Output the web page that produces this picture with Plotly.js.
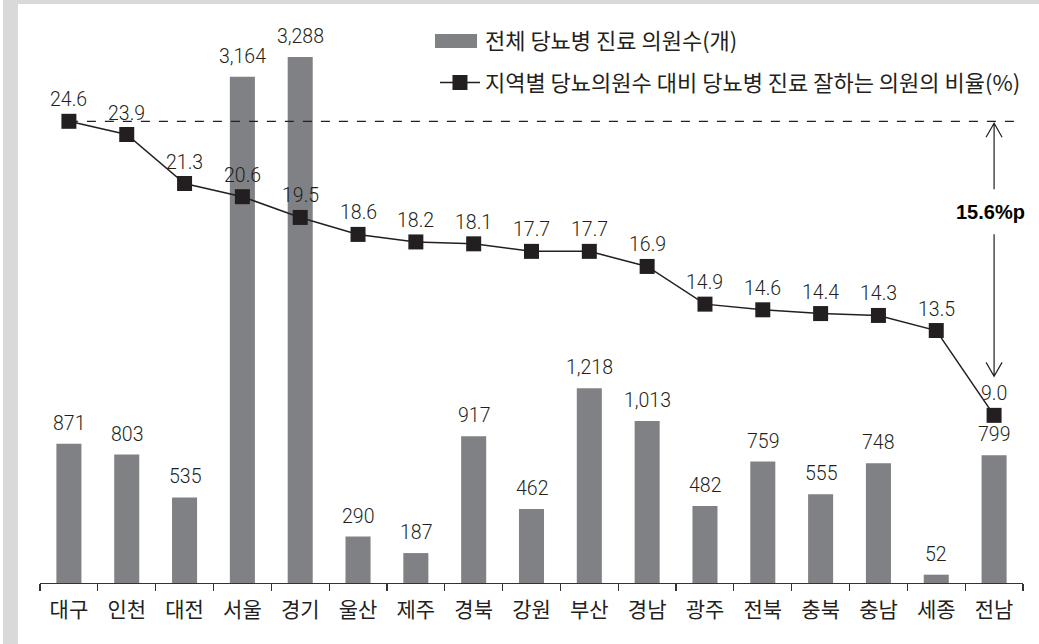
<!DOCTYPE html>
<html>
<head>
<meta charset="utf-8">
<script src="https://cdn.plot.ly/plotly-3.0.1.min.js"></script>
<style>
  html, body { margin: 0; padding: 0; background: #ffffff; width: 1039px; height: 644px; overflow: hidden; }
  #frame { position: absolute; left: 3px; top: 0; border-left: 15px solid #d9d9d9; border-top: 4px solid #d9d9d9; width: 1021px; height: 640px; }
  #chart { width: 1021px; height: 640px; }
</style>
</head>
<body>
<div id="frame"><div id="chart"></div></div>
<script>
// ---- data ----
const regions = ['대구','인천','대전','서울','경기','울산','제주','경북','강원','부산','경남','광주','전북','충북','충남','세종','전남'];
const clinicCounts = [871, 803, 535, 3164, 3288, 290, 187, 917, 462, 1218, 1013, 482, 759, 555, 748, 52, 799];
const goodRatio = [24.6, 23.9, 21.3, 20.6, 19.5, 18.6, 18.2, 18.1, 17.7, 17.7, 16.9, 14.9, 14.6, 14.4, 14.3, 13.5, 9.0];
const seriesNames = ['전체 당뇨병 진료 의원수(개)', '지역별 당뇨의원수 대비 당뇨병 진료 잘하는 의원의 비율(%)'];

// ---- styles ----
const numFont = 'Roboto, sans-serif';
const korFont = 'Noto Sans CJK KR, sans-serif';
const ink = '#231f20';
const barColor = '#808184';

const maxR = Math.max(...goodRatio);
const minR = Math.min(...goodRatio);
const nCat = regions.length;

const traces = [
  {
    type: 'bar', x: regions, y: clinicCounts, name: seriesNames[0],
    marker: { color: barColor }, yaxis: 'y', legendgroup: 'a',
    hoverinfo: 'skip'
  },
  {
    type: 'scatter', mode: 'lines+markers', x: regions, y: goodRatio, name: seriesNames[1],
    yaxis: 'y2', legendgroup: 'b',
    line: { color: ink, width: 1.5 },
    marker: { symbol: 'square', size: 15, color: ink },
    hoverinfo: 'skip'
  }
];

const annotations = [];
regions.forEach((r, i) => {
  annotations.push({
    x: r, y: clinicCounts[i], xref: 'x', yref: 'y',
    text: clinicCounts[i].toLocaleString('en-US'), showarrow: false,
    yanchor: 'bottom', yshift: 7,
    font: { family: numFont, size: 19.5, color: ink, weight: 300 }
  });
  annotations.push({
    x: r, y: goodRatio[i], xref: 'x', yref: 'y2',
    text: goodRatio[i].toFixed(1), showarrow: false,
    yanchor: 'bottom', yshift: 8,
    font: { family: numFont, size: 19.5, color: ink, weight: 300 }
  });
});
annotations.push({
  x: nCat - 1, y: maxR, xref: 'x', yref: 'y2',
  text: (maxR - minR).toFixed(1) + '%p', showarrow: false,
  yshift: -91, xshift: -4,
  font: { family: 'Liberation Sans, Arial, sans-serif', size: 20, color: '#000', weight: 'bold' }
});

const shapes = [
  // enlarged legend swatch for the bar series (sits under the legend icon)
  { type: 'rect', xref: 'paper', yref: 'paper', x0: 0.4018, x1: 0.4446, y0: 0.9570, y1: 0.9821,
    fillcolor: barColor, line: { width: 0 } },
  // dashed reference line at the maximum ratio
  { type: 'line', xref: 'x', yref: 'y2', x0: 0, x1: nCat - 1 + 0.37, y0: maxR, y1: maxR,
    line: { color: ink, width: 1.3, dash: 'dash' } },
  // upper arrow (pixel-sized, anchored at max value of last region)
  { type: 'path', xref: 'x', yref: 'y2', xsizemode: 'pixel', ysizemode: 'pixel',
    xanchor: nCat - 1, yanchor: maxR,
    path: 'M0,-2 L0,-68 M-8,-16 L0,-2 L8,-16', line: { color: ink, width: 1.2 } },
  // lower arrow (anchored at min value)
  { type: 'path', xref: 'x', yref: 'y2', xsizemode: 'pixel', ysizemode: 'pixel',
    xanchor: nCat - 1, yanchor: minR,
    path: 'M0,39 L0,181 M-8,53 L0,39 L8,53', line: { color: ink, width: 1.2 } }
];

const layout = {
  width: 1021, height: 640,
  margin: { l: 22, r: 16, t: 20, b: 61, autoexpand: false },
  paper_bgcolor: '#ffffff', plot_bgcolor: '#ffffff',
  showlegend: true,
  legend: {
    x: 0.4018, y: 1.007, xanchor: 'left', yanchor: 'top', itemwidth: 40,
    font: { family: korFont, size: 22, color: ink }, tracegroupgap: 10,
    bgcolor: 'rgba(0,0,0,0)'
  },
  bargap: 0.567,
  xaxis: {
    type: 'category', range: [-0.5, nCat - 0.5], autorange: false,
    showgrid: false, zeroline: false, automargin: false,
    showline: true, linecolor: '#333', linewidth: 1.2,
    ticks: 'outside', tickson: 'boundaries', ticklen: 7, tickcolor: '#333', tickwidth: 1.2,
    tickfont: { family: korFont, size: 21, color: ink }, ticklabelstandoff: 8, tickangle: 0,
    fixedrange: true
  },
  yaxis: { range: [0, 3494], autorange: false, visible: false, showgrid: false, zeroline: false, fixedrange: true },
  yaxis2: { range: [0.106, 29.762], autorange: false, overlaying: 'y', side: 'right', visible: false, showgrid: false, zeroline: false, fixedrange: true },
  annotations: annotations,
  shapes: shapes
};

Plotly.newPlot('chart', traces, layout, { displayModeBar: false, staticPlot: true });
</script>
</body>
</html>
